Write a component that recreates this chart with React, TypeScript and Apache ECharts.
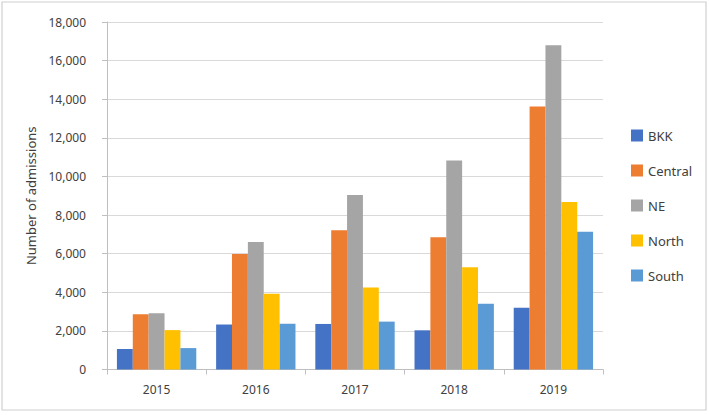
import React, { useEffect, useRef } from "react";
import * as echarts from "echarts";

const years = ["2015", "2016", "2017", "2018", "2019"];
const seriesNames = ["BKK", "Central", "NE", "North", "South"];
const bkk = [1060, 2330, 2360, 2030, 3200];
const central = [2860, 5980, 7210, 6850, 13620];
const ne = [2910, 6610, 9040, 10820, 16800];
const north = [2040, 3930, 4250, 5300, 8680];
const south = [1110, 2370, 2480, 3410, 7140];
const colors = ["#4472C4", "#ED7D31", "#A5A5A5", "#FFC000", "#5B9BD5"];
const yTicks = { min: 0, max: 18000, interval: 2000 };

export default function App() {
  const ref = useRef<HTMLDivElement>(null);
  useEffect(() => {
    if (!ref.current) return;
    const chart = echarts.init(ref.current, undefined, { renderer: "svg" });
    const data = [bkk, central, ne, north, south];
    const font = "'Noto Sans', sans-serif";
    chart.setOption({
      animation: false,
      textStyle: { fontFamily: font },
      grid: { left: 107, right: 106, top: 22, bottom: 45.5 },
      graphic: [
        {
          type: "rect",
          shape: { x: 2, y: 2, width: 704, height: 408 },
          style: { fill: "none", stroke: "#D0D0D0", lineWidth: 1.2 },
          silent: true,
        },
      ],
      legend: {
        orient: "vertical",
        left: 626,
        top: 124,
        itemWidth: 12,
        itemHeight: 12,
        itemGap: 22,
        icon: "rect",
        data: seriesNames,
        textStyle: { fontSize: 13, color: "#404040", fontFamily: font },
      },
      xAxis: {
        type: "category",
        data: years,
        axisLine: { lineStyle: { color: "#BFBFBF", width: 1 } },
        axisTick: { show: true, length: 5, lineStyle: { color: "#BFBFBF" } },
        axisLabel: { color: "#404040", fontSize: 12, margin: 14 },
      },
      yAxis: {
        type: "value",
        min: yTicks.min,
        max: yTicks.max,
        interval: yTicks.interval,
        name: "Number of admissions",
        nameLocation: "middle",
        nameGap: 70,
        nameTextStyle: { color: "#404040", fontSize: 13 },
        axisLine: { show: true, lineStyle: { color: "#BFBFBF" } },
        axisTick: { show: true, length: 5, lineStyle: { color: "#BFBFBF" } },
        axisLabel: {
          color: "#404040",
          fontSize: 12,
          margin: 21,
          formatter: (v: number) => v.toLocaleString("en-US"),
        },
        splitLine: { lineStyle: { color: "#D9D9D9", width: 1.2 } },
      },
      series: seriesNames.map((name, i) => ({
        name,
        type: "bar",
        data: data[i],
        barGap: "0%",
        barCategoryGap: "20%",
        itemStyle: { color: colors[i] },
      })),
    });
    return () => chart.dispose();
  }, []);
  return (
    <div
      ref={ref}
      style={{ position: "fixed", left: 0, top: 0, width: 709, height: 415, background: "#fff" }}
    />
  );
}
